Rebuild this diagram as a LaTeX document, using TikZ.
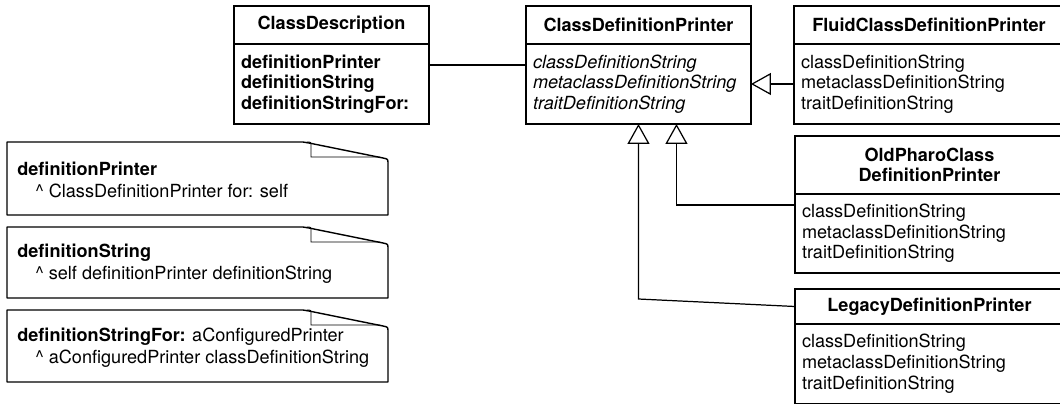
\documentclass[tikz,border=0pt]{standalone}
\usepackage{fontspec}
\setmainfont{TeX Gyre Heros}
\usetikzlibrary{arrows.meta,positioning}
\tikzset{>=stealth,
  classhead/.style={draw, line width=0.8pt, font=\bfseries, align=center,
    inner xsep=0.14cm, inner ysep=0pt, outer sep=0pt, anchor=north west},
  classbody/.style={draw, line width=0.8pt, align=left,
    inner xsep=0.14cm, inner ysep=0pt, outer sep=0pt},
  notetext/.style={anchor=west, align=left, inner sep=0pt,
    font=\fontsize{10.3pt}{12.5pt}\selectfont},
  inherit/.style={line width=0.7pt, -{Triangle[open,length=0.4cm,width=0.44cm]}},
  noteline/.style={line width=0.8pt, line join=round},
  foldline/.style={line width=0.5pt},
}

\begin{document}
\fontsize{10.3pt}{11.7pt}\selectfont
\hyphenpenalty=10000 \exhyphenpenalty=10000
\begin{tikzpicture}[x=0.02cm,y=-0.02cm,line cap=round]
  \useasboundingbox (0,0) rectangle (1060,403);
  \clip (0,0) rectangle (1060,403);

  % classes
  \node[classhead, text width=3.62cm, minimum height=0.76cm] (classDesc) at (234,6) {ClassDescription};
  \node[classbody, text width=3.62cm, minimum height=1.6cm, below=0pt of classDesc, font=\bfseries] (classDescBody)
    {definitionPrinter\\definitionString\\definitionStringFor:};

  \node[classhead, text width=4.22cm, minimum height=0.76cm] (cdp) at (526,6) {ClassDefinitionPrinter};
  \node[classbody, text width=4.22cm, minimum height=1.6cm, below=0pt of cdp, font=\itshape] (cdpBody)
    {classDefinitionString\\metaclassDefinitionString\\traitDefinitionString};

  \node[classhead, text width=5.12cm, minimum height=0.76cm] (fluid) at (794,6) {FluidClassDefinitionPrinter};
  \node[classbody, text width=5.12cm, minimum height=1.6cm, below=0pt of fluid] (fluidBody)
    {classDefinitionString\\metaclassDefinitionString\\traitDefinitionString};

  \node[classhead, text width=5.1cm, minimum height=1.16cm] (old) at (795,136) {OldPharoClass\\DefinitionPrinter};
  \node[classbody, text width=5.1cm, minimum height=1.58cm, below=0pt of old] (oldBody)
    {classDefinitionString\\metaclassDefinitionString\\traitDefinitionString};

  \node[classhead, text width=5.1cm, minimum height=0.7cm] (legacyHead) at (795,289) {LegacyDefinitionPrinter};
  \node[classbody, text width=5.1cm, minimum height=1.59cm, below=0pt of legacyHead] (legacyBody)
    {classDefinitionString\\metaclassDefinitionString\\traitDefinitionString};

  % links
  \draw [line width=0.7pt] ([yshift=0.38cm]classDescBody.east) -- ([yshift=0.38cm]cdpBody.west);
  \draw [inherit] (fluidBody.west) -- (cdpBody.east);
  \draw [inherit] ([yshift=-0.22cm]oldBody.north west) -| ([xshift=0.76cm]cdpBody.south);
  \coordinate (legacyBend) at (cdpBody.south |- 0,299);
  \draw [inherit] (legacyHead.west) -- (legacyBend) -- (cdpBody.south);

  % notes
  \foreach \t/\b in {142/215,227/298,310/382}{
    \draw [noteline] (7,\t) -- (303,\t) .. controls (306,\t) .. (309,\t+1) -- (383,\t+16)
      .. controls (388,\t+17) .. (388,\t+22) -- (388,\b) -- (7,\b) -- cycle;
    \draw [foldline] (307,\t) .. controls (311,\t) .. (311,\t+4) -- (311,\t+15) -- (380,\t+15);
  }

  \node[notetext] (noteA) at (17,180) {\textbf{definitionPrinter}\\
    \hspace{0.36cm}\textasciicircum{} ClassDefinitionPrinter for: self};
  \node[notetext] (noteB) at (17,264) {\textbf{definitionString}\\
    \hspace{0.36cm}\textasciicircum{} self definitionPrinter definitionString};
  \node[notetext] (noteC) at (17,348) {\textbf{definitionStringFor:} aConfiguredPrinter\\
    \hspace{0.36cm}\textasciicircum{} aConfiguredPrinter classDefinitionString};

\end{tikzpicture}
\end{document}
